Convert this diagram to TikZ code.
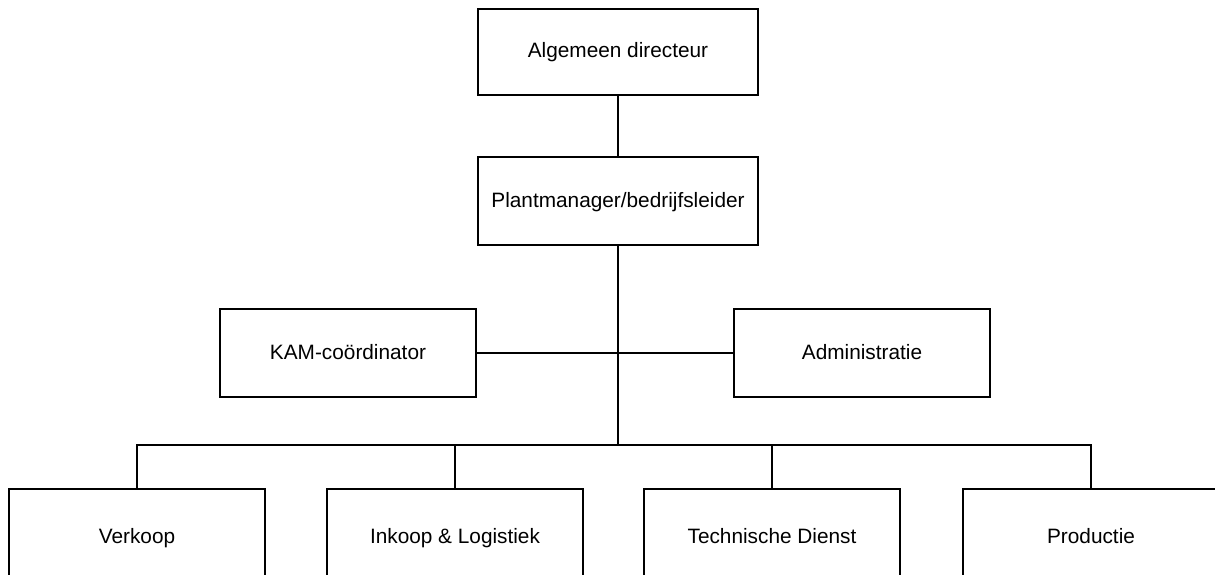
\documentclass[tikz,border=0pt]{standalone}
\usepackage{fontspec}
\setmainfont{Liberation Sans}
\begin{document}
\begin{tikzpicture}[x=1pt,y=-1pt,
  box/.style={draw=black,line width=2pt,inner sep=0pt,minimum width=256pt,minimum height=88pt,
    text height=1.2em,text depth=0em,
    font=\fontsize{20.8}{25}\selectfont,text=black},
  wire/.style={draw=black,line width=2pt}]
\useasboundingbox (0,0) rectangle (1215,575);
\clip (0,0) rectangle (1215,575);
\node[box,minimum width=280pt,minimum height=86pt] (ad) at (618,52) {Algemeen directeur};
\node[box,minimum width=280pt,minimum height=88pt] (pm) at (618,201) {Plantmanager/bedrijfsleider};
\node[box] (kam) at (348,353) {KAM-coördinator};
\node[box] (adm) at (862,353) {Administratie};
\node[box,minimum height=96pt] (vk) at (137,537) {Verkoop};
\node[box,minimum height=96pt] (ik) at (455,537) {Inkoop \& Logistiek};
\node[box,minimum height=96pt] (td) at (772,537) {Technische Dienst};
\node[box,minimum height=96pt] (pr) at (1091,537) {Productie};
\coordinate (bus) at (618,445);
\draw[wire] (ad.south) -- (pm.north);
\draw[wire] (pm.south) -- (bus);
\draw[wire] (kam.east) -- (adm.west);
\draw[wire] (vk.north) -- (vk.north |- bus) -- (pr.north |- bus) -- (pr.north);
\draw[wire] (ik.north) -- (ik.north |- bus);
\draw[wire] (td.north) -- (td.north |- bus);
\end{tikzpicture}
\end{document}
